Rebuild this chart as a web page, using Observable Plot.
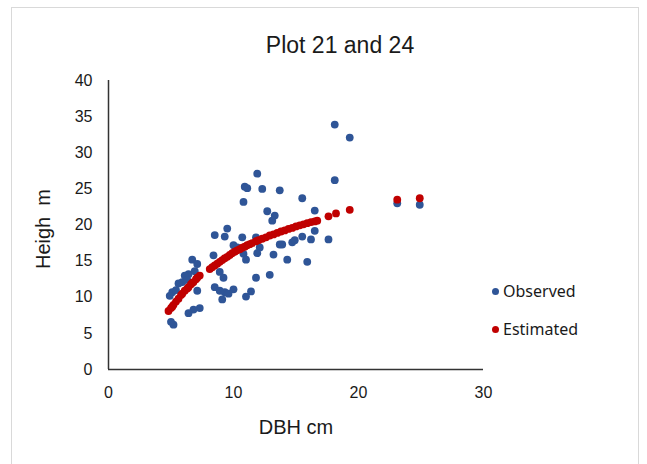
<!DOCTYPE html>
<html>
<head>
<meta charset="utf-8">
<script src="https://cdn.jsdelivr.net/npm/d3@7"></script>
<script src="https://cdn.jsdelivr.net/npm/@observablehq/plot@0.6"></script>
<style>
  html, body { margin: 0; padding: 0; background: #fff; }
  #wrap { position: relative; width: 647px; height: 464px; overflow: hidden; }
  #frame { position: absolute; left: 11px; top: 7px; width: 628px; height: 470px; border: 1px solid #d9d9d9; box-sizing: border-box; }
  .txt { position: absolute; white-space: nowrap; color: #000; }
  #title { left: 340px; top: 45px; transform: translate(-50%, -50%); font: 23px "Liberation Sans", Arial, sans-serif; color: #1a1a1a; }
  #ytitle { left: 43px; top: 229px; transform: translate(-50%, -50%) rotate(-90deg); font: 20px "Liberation Sans", Arial, sans-serif; color: #1a1a1a; }
  #xtitle { left: 296px; top: 427px; transform: translate(-50%, -50%); font: 20px "Liberation Sans", Arial, sans-serif; color: #1a1a1a; }
  .leg { position: absolute; font: 16px "Noto Sans", sans-serif; color: #1a1a1a; }
  .leg span.m { position: absolute; left: -11px; top: 50%; width: 7px; height: 7px; margin-top: -3px; border-radius: 50%; }
  #plot { position: absolute; left: 0; top: 0; }
</style>
</head>
<body>
<div id="wrap">
  <div id="frame"></div>
  <div id="plot"></div>
  <div class="txt" id="title">Plot 21 and 24</div>
  <div class="txt" id="ytitle">Heigh&nbsp; m</div>
  <div class="txt" id="xtitle">DBH cm</div>
</div>
<script>
// Observed DBH (cm) and height (m)
const observedDBH = [18.1, 19.3, 18.1, 11.9, 10.9, 11.1, 12.3, 13.7, 10.8, 15.5, 16.5, 23.1, 24.9, 12.7, 13.3, 13.1,
  9.5, 8.5, 9.3, 10.7, 11.8, 10.0, 12.1, 10.8, 11.0, 11.9, 13.2, 13.7, 13.9, 14.3, 14.7, 14.9, 15.5, 16.2, 16.5, 17.6,
  15.9, 8.9, 9.2, 11.8, 12.9, 10.0, 9.3, 9.6, 9.1, 11.4, 11.0, 8.4, 6.7, 7.1, 6.4, 6.1, 5.9, 5.6, 5.1, 4.9, 7.1, 8.5,
  8.9, 7.3, 6.8, 6.4, 5.2, 5.0, 10.3, 6.3, 5.4, 6.9];
const observedHeight = [33.9, 32.1, 26.2, 27.1, 25.3, 25.1, 25.0, 24.8, 23.2, 23.7, 22.0, 23.0, 22.8, 21.9, 21.3, 20.6,
  19.5, 18.6, 18.4, 18.3, 18.3, 17.2, 16.9, 16.0, 15.2, 16.1, 15.9, 17.3, 17.3, 15.2, 17.6, 17.9, 18.4, 18.0, 19.2, 18.0,
  14.9, 13.5, 12.7, 12.7, 13.1, 11.1, 10.7, 10.5, 9.7, 10.8, 10.1, 15.8, 15.2, 14.6, 13.2, 13.0, 12.1, 11.9, 10.7, 10.2, 10.9, 11.4,
  10.9, 8.5, 8.3, 7.8, 6.2, 6.6, 16.9, 12.4, 11.0, 13.6];

// Estimated height (m) at DBH (cm)
const estimatedDBH = [4.8, 5.0, 5.1, 5.2, 5.4, 5.6, 5.8, 5.9, 6.1, 6.3, 6.4, 6.6, 6.7, 6.8, 7.0, 7.1, 7.3,
  8.1, 8.3, 8.5, 8.7, 8.9, 9.1, 9.3, 9.5, 9.7, 9.9, 10.1, 10.3, 10.5, 10.7, 10.9, 11.1, 11.3, 11.5, 11.8, 12.0,
  12.3, 12.6, 12.9, 13.2, 13.5, 13.8, 14.1, 14.4, 14.7, 15.0, 15.3, 15.6, 15.9, 16.2, 16.5, 16.7, 17.6, 18.2, 19.3, 23.1, 24.9];
const estimatedHeight = [8.1, 8.5, 8.7, 8.95, 9.4, 9.8, 10.3, 10.5, 10.9, 11.2, 11.4, 11.8, 12.0, 12.1, 12.5, 12.7, 13.0,
  13.9, 14.15, 14.4, 14.65, 14.9, 15.15, 15.4, 15.6, 15.85, 16.1, 16.3, 16.5, 16.65, 16.85, 17.0, 17.2, 17.35, 17.5, 17.75, 17.9,
  18.1, 18.3, 18.55, 18.7, 18.9, 19.1, 19.25, 19.45, 19.6, 19.8, 19.95, 20.1, 20.25, 20.4, 20.5, 20.6, 21.2, 21.6, 22.1, 23.5, 23.7];

const xTicks = [0, 10, 20, 30];
const yTicks = [0, 5, 10, 15, 20, 25, 30, 35, 40];
const seriesNames = ["Observed", "Estimated"];
const seriesColors = ["#2F5597", "#C00000"];

const observed = observedDBH.map((d, i) => ({dbh: d, h: observedHeight[i]}));
const estimated = estimatedDBH.map((d, i) => ({dbh: d, h: estimatedHeight[i]}));

const chart = Plot.plot({
  width: 647,
  height: 464,
  marginLeft: 108,
  marginRight: 164,
  marginTop: 80,
  marginBottom: 95,
  style: {fontFamily: "'Liberation Sans', Arial, sans-serif", fontSize: "16px", color: "#1a1a1a", background: "transparent", overflow: "visible"},
  x: {domain: [0, 30]},
  y: {domain: [0, 40]},
  marks: [
    Plot.axisX({ticks: xTicks, tickSize: 0, tickPadding: 17, label: null, fontSize: 16}),
    Plot.axisY({ticks: yTicks, tickSize: 0, tickPadding: 16, label: null, fontSize: 16}),
    Plot.ruleY([0], {stroke: "#333", strokeWidth: 1.5}),
    Plot.ruleX([0], {stroke: "#333", strokeWidth: 1.5}),
    Plot.dot(observed, {x: "dbh", y: "h", r: 3.9, fill: seriesColors[0], stroke: "none"}),
    Plot.dot(estimated, {x: "dbh", y: "h", r: 3.9, fill: seriesColors[1], stroke: "none"})
  ]
});
document.getElementById("plot").appendChild(chart);

const wrap = document.getElementById("wrap");
const legTops = [291, 329];
seriesNames.forEach((name, i) => {
  const el = document.createElement("div");
  el.className = "leg";
  el.style.left = "503px";
  el.style.top = legTops[i] + "px";
  el.style.transform = "translateY(-50%)";
  el.innerHTML = `<span class="m" style="background:${seriesColors[i]}"></span>${name}`;
  wrap.appendChild(el);
});
</script>
</body>
</html>
